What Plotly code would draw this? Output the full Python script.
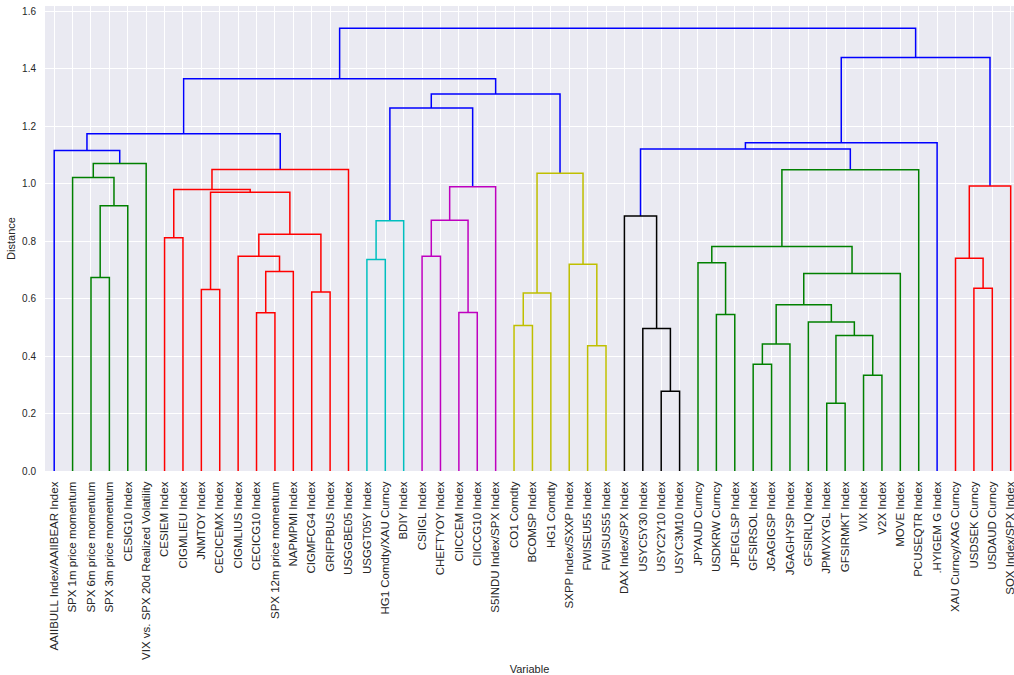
import plotly.graph_objects as go

# Leaf labels in dendrogram order
labels = [
    "AAIIBULL Index/AAIIBEAR Index", "SPX 1m price momentum", "SPX 6m price momentum",
    "SPX 3m price momentum", "CESIG10 Index", "VIX vs. SPX 20d Realized Volatility",
    "CESIEM Index", "CIGMLIEU Index", "JNMTOY Index", "CECICEMX Index", "CIGMLIUS Index",
    "CECICG10 Index", "SPX 12m price momentum", "NAPMPMI Index", "CIGMFCG4 Index",
    "GRIFPBUS Index", "USGGBE05 Index", "USGGT05Y Index", "HG1 Comdty/XAU Curncy",
    "BDIY Index", "CSIIGL Index", "CHEFTYOY Index", "CIICCEM Index", "CIICCG10 Index",
    "S5INDU Index/SPX Index", "CO1 Comdty", "BCOMSP Index", "HG1 Comdty",
    "SXPP Index/SXXP Index", "FWISEU55 Index", "FWISUS55 Index", "DAX Index/SPX Index",
    "USYC5Y30 Index", "USYC2Y10 Index", "USYC3M10 Index", "JPYAUD Curncy",
    "USDKRW Curncy", "JPEIGLSP Index", "GFSIRSOL Index", "JGAGIGSP Index",
    "JGAGHYSP Index", "GFSIRLIQ Index", "JPMVXYGL Index", "GFSIRMKT Index",
    "VIX Index", "V2X Index", "MOVE Index", "PCUSEQTR Index", ".HYIGEM G Index",
    "XAU Curncy/XAG Curncy", "USDSEK Curncy", "USDAUD Curncy", "SOX Index/SPX Index",
]

# Linkage: node ids < 53 are leaves, merge k gets id 53 + k
link_left = [42, 33, 44, 38, 29, 56, 53, 32, 25, 41, 36, 11, 22, 58, 61, 14, 8, 50,
             2, 66, 64, 28, 35, 17, 49, 10, 20, 75, 6, 78, 76, 79, 31, 71, 69, 81,
             84, 77, 1, 67, 80, 88, 91, 0, 85, 97, 96, 83, 100, 99, 98, 102]
link_right = [43, 34, 45, 39, 30, 40, 55, 54, 26, 59, 37, 12, 23, 62, 27, 15, 9, 51,
              3, 46, 13, 57, 63, 18, 70, 73, 21, 72, 7, 68, 19, 65, 60, 4, 82, 87,
              24, 52, 86, 74, 47, 16, 5, 95, 93, 48, 94, 89, 92, 101, 90, 103]
link_height = [0.236, 0.278, 0.333, 0.372, 0.436, 0.442, 0.472, 0.496, 0.507, 0.519,
               0.545, 0.551, 0.552, 0.579, 0.620, 0.623, 0.632, 0.636, 0.674, 0.688,
               0.695, 0.720, 0.725, 0.736, 0.741, 0.748, 0.748, 0.782, 0.812, 0.824,
               0.871, 0.873, 0.888, 0.924, 0.971, 0.980, 0.990, 0.992, 1.022, 1.037,
               1.049, 1.050, 1.071, 1.116, 1.121, 1.143, 1.174, 1.264, 1.313, 1.366,
               1.440, 1.542]
link_color = ["g", "k", "g", "g", "y", "g", "g", "k", "y", "g",
              "g", "r", "m", "g", "y", "r", "r", "r", "g", "g",
              "r", "y", "g", "c", "r", "r", "m", "g", "r", "r",
              "c", "m", "k", "g", "r", "r", "m", "r", "g", "y",
              "g", "r", "g", "b", "b", "b", "b", "b", "b", "b",
              "b", "b"]

palette = {
    "b": "rgb(0,0,255)", "g": "rgb(0,128,0)", "r": "rgb(255,0,0)",
    "c": "rgb(0,191,191)", "m": "rgb(191,0,191)", "y": "rgb(191,191,0)",
    "k": "rgb(0,0,0)",
}

n_leaves = len(labels)
leaf_x = [5 + 10 * i for i in range(n_leaves)]
node_x = list(leaf_x)
node_h = [0.0] * n_leaves

# Build the U-shaped links, grouped by colour
segs = {c: ([], []) for c in palette}
for a, b, h, c in zip(link_left, link_right, link_height, link_color):
    xa, ha = node_x[a], node_h[a]
    xb, hb = node_x[b], node_h[b]
    xs, ys = segs[c]
    xs += [xa, xa, xb, xb, None]
    ys += [ha, h, h, hb, None]
    node_x.append((xa + xb) / 2)
    node_h.append(h)

fig = go.Figure()
for c, (xs, ys) in segs.items():
    if xs:
        fig.add_trace(go.Scatter(x=xs, y=ys, mode="lines",
                                 line=dict(color=palette[c], width=1.5),
                                 hoverinfo="skip", showlegend=False))

text_color = "#262626"
ymax = max(link_height) * 1.05

fig.update_layout(
    width=1014, height=675,
    margin=dict(l=45, r=0, t=6, b=204),
    paper_bgcolor="white", plot_bgcolor="#EAEAF2",
    font=dict(family="Liberation Sans, Arial, sans-serif", size=11, color=text_color),
    showlegend=False,
)
fig.update_xaxes(
    range=[0, 526.8], tickmode="array", tickvals=leaf_x, ticktext=labels,
    tickangle=-90, showgrid=True, gridcolor="white", gridwidth=1,
    zeroline=False, showline=False, ticks="outside", ticklen=5,
    tickcolor="rgba(0,0,0,0)", tickfont=dict(size=11.5, color=text_color),
    ticklabeloverflow="allow",
    title=dict(text="Variable", font=dict(size=11, color=text_color), standoff=9),
    automargin=False,
)
fig.update_yaxes(
    range=[0, ymax], tickmode="array", tickvals=[0, 0.2, 0.4, 0.6, 0.8, 1.0, 1.2, 1.4, 1.6],
    tickformat=".1f", showgrid=True, gridcolor="white", gridwidth=1,
    zeroline=False, showline=False, ticks="outside", ticklen=6,
    tickcolor="rgba(0,0,0,0)", tickfont=dict(size=10, color=text_color),
    title=dict(text="Distance", font=dict(size=11, color=text_color), standoff=4),
    automargin=False,
)

fig.write_html("out.html")
